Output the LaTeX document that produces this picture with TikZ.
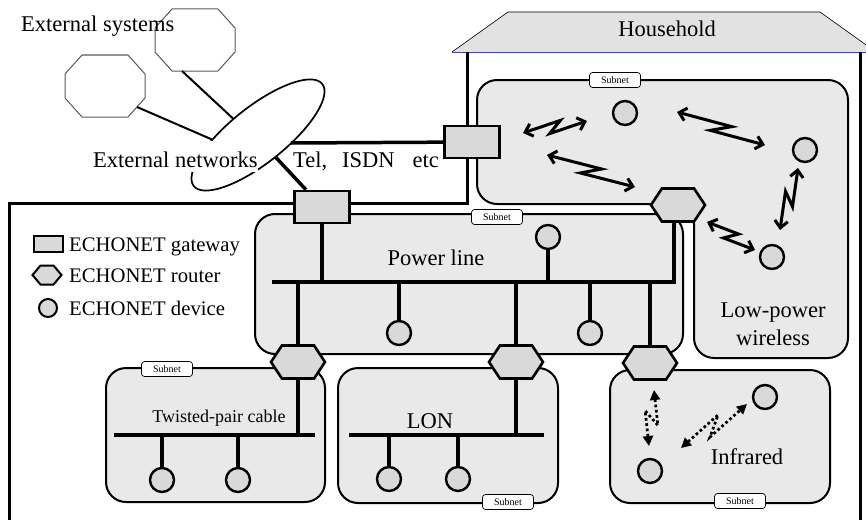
\documentclass[tikz,border=0pt]{standalone}
\usepackage{fontspec}
\setmainfont{Liberation Serif}
\usetikzlibrary{arrows.meta,shapes.geometric,shapes.symbols,calc}
\definecolor{subfill}{RGB}{233,233,233}
\definecolor{devfill}{RGB}{217,217,217}
\definecolor{rooffill}{RGB}{226,226,226}
\definecolor{roofline}{RGB}{70,70,170}
\newcommand\octoutline[1]{\draw[octline] ($(#1)+(-23,-31)$) -- ($(#1)+(23,-31)$) -- ($(#1)+(40,-12)$) -- ($(#1)+(40,12)$) -- ($(#1)+(23,31)$) -- ($(#1)+(-23,31)$) -- ($(#1)+(-40,12)$) -- ($(#1)+(-40,-12)$) -- cycle;}
\tikzset{
  big/.style={font=\fontsize{22.5}{26}\selectfont, inner sep=0pt},
  legtxt/.style={font=\fontsize{20.7}{24}\selectfont, inner sep=0pt, anchor=base west},
  subnetbox/.style={draw, fill=subfill, line width=2pt, rounded corners=20pt},
  tag/.style={draw, fill=white, rounded corners=3pt, line width=0.7pt, minimum width=51pt, minimum height=15pt, inner sep=0pt, font=\fontsize{10}{12}\selectfont},
  gw/.style={draw, fill=devfill, line width=2.6pt, minimum width=55pt, minimum height=32pt, inner sep=0pt},
  rt/.style={signal, signal to=east and west, signal pointer angle=113, draw, fill=devfill, line width=2.6pt, minimum width=54pt, minimum height=33pt, inner sep=0pt},
  dev/.style={circle, draw, fill=devfill, line width=2.4pt, minimum size=24pt, inner sep=0pt},
  octa/.style={rectangle, minimum width=80pt, minimum height=62pt, inner sep=0pt},
  octline/.style={draw=gray!70!black, fill=white, line width=1pt},
  bus/.style={line width=4pt},
  wire/.style={line width=3.5pt},
  zap/.style={line width=3pt, line join=miter, {Straight Barb[length=7pt,width=13pt]}-{Straight Barb[length=7pt,width=13pt]},
    to path={-- ($(\tikztostart)!0.6!(\tikztotarget)!5.5pt!90:(\tikztotarget)$) -- ($(\tikztostart)!0.4!(\tikztotarget)!5.5pt!-90:(\tikztotarget)$) -- (\tikztotarget)}},
  irzap/.style={line width=2.7pt, dash pattern=on 2.7pt off 2.6pt, {Triangle[length=10pt,width=10pt]}-{Triangle[length=10pt,width=10pt]},
    to path={-- ($(\tikztostart)!0.62!(\tikztotarget)!7pt!90:(\tikztotarget)$) -- ($(\tikztostart)!0.38!(\tikztotarget)!7pt!-90:(\tikztotarget)$) -- (\tikztotarget)}},
}
\begin{document}
\begin{tikzpicture}[x=1pt,y=-1pt]
\useasboundingbox (0,0) rectangle (866,519);
% roof
\fill[rooffill] (452,52) -- (508,12) -- (820,12) -- (876,52) -- cycle;
\draw[line width=0.6pt] (452,52) -- (508,12) -- (820,12) -- (876,52);
\draw[line width=0.9pt, roofline] (452,52) -- (876,52);
\node[big, anchor=base] (hh) at (667,37) {Household};
% house walls
\draw[line width=3pt] (467,52) -- (467,203) -- (9,203) -- (9,530);
\draw[line width=3pt] (860,52) -- (860,530);
% external systems and networks
\node[octa] (o1) at (195,40) {};
\node[octa] (o2) at (105,86) {};
\octoutline{o1}
\octoutline{o2}
\coordinate (net) at (258,135);
\draw[line width=1.7pt] plot[domain=0:360, samples=145, variable=\t]
  ({258 + 64.17*cos(\t) - 17.43*sin(\t)}, {135 - 51.05*cos(\t) - 21.91*sin(\t)}) -- cycle;
\coordinate (e0) at (212,139.5);
\coordinate (e1) at (233,118.5);
\coordinate (e2) at (291,143);
\coordinate (e3) at (275.5,157);
\draw[line width=2pt] ($(o1)+(-13,31)$) -- (e1);
\draw[line width=2pt] ($(o2)+(32,21)$) -- (e0);
\node[big, anchor=base west, fill=white, text height=26pt, text depth=5pt] (extnet) at (93,167) {External networks};
\node[big, anchor=base west] (extsys) at (21,32) {External systems};
\node[big, anchor=base west] (tel) at (293,167) {Tel,\hspace{15pt}ISDN\hspace{18pt}etc};
% subnet areas
\draw[subnetbox] (477,80) -- (848,80) -- (848,358) -- (694,358) -- (694,204) -- (477,204) -- cycle;
\draw[subnetbox] (255,214) rectangle (683,354);
\draw[subnetbox] (106,368) rectangle (325,502);
\draw[subnetbox] (338,368) rectangle (558,503);
\draw[subnetbox] (610,370) rectangle (830,503);
% buses
\coordinate (pbL) at (272,282); \coordinate (pbR) at (676,282);
\coordinate (tbL) at (114,435); \coordinate (tbR) at (315,435);
\coordinate (lbL) at (349,435); \coordinate (lbR) at (544,435);
\draw[bus] (pbL) -- (pbR);
\draw[bus] (tbL) -- (tbR);
\draw[bus] (lbL) -- (lbR);
% gateways and routers
\node[gw] (gw1) at (472,142) {};
\node[gw] (gw2) at (322,207) {};
\node[rt] (rtop) at (678,205) {};
\node[rt] (ra) at (298,362) {};
\node[rt] (rb) at (516,362) {};
\node[rt] (rc) at (650,363) {};
% devices
\node[dev] (pd1) at (548,237) {};
\node[dev] (pd2) at (399,333) {};
\node[dev] (pd3) at (590,333) {};
\node[dev] (td1) at (162,480) {};
\node[dev] (td2) at (238,480) {};
\node[dev] (ld1) at (389,479) {};
\node[dev] (ld2) at (458,479) {};
\node[dev] (id1) at (765,397) {};
\node[dev] (id2) at (650,471) {};
\node[dev] (wd1) at (625,113) {};
\node[dev] (wd2) at (805,150) {};
\node[dev] (wd3) at (772,257) {};
% wires
\draw[line width=3.5pt] (e2) -- (gw1);
\draw[line width=3.5pt] (e3) -- (gw2);
\draw[wire] (gw2) -- (gw2 |- pbL);
\draw[wire] ([xshift=-4pt]rtop.south) -- ([xshift=-4pt]rtop.south |- pbR);
\draw[wire] (pd1) -- (pd1 |- pbL);
\draw[wire] (pd2) -- (pd2 |- pbL);
\draw[wire] (pd3) -- (pd3 |- pbL);
\draw[wire] (ra) -- (ra |- pbL);
\draw[wire] (rb) -- (rb |- pbL);
\draw[wire] (rc) -- (rc |- pbL);
\draw[wire] (ra) -- (ra |- tbL);
\draw[wire] (td1) -- (td1 |- tbL);
\draw[wire] (td2) -- (td2 |- tbL);
\draw[wire] (rb) -- (rb |- lbL);
\draw[wire] (ld1) -- (ld1 |- lbL);
\draw[wire] (ld2) -- (ld2 |- lbL);
% wireless links
\coordinate (z1a) at (523,133); \coordinate (z1b) at (587,121);
\coordinate (z2a) at (547,155); \coordinate (z2b) at (635,187);
\coordinate (z3a) at (677,112); \coordinate (z3b) at (765,145);
\coordinate (z4a) at (798,168); \coordinate (z4b) at (780,230);
\coordinate (z5a) at (707,222); \coordinate (z5b) at (755,250);
\draw[zap] (z1a) to (z1b);
\draw[zap] (z2a) to (z2b);
\draw[zap] (z3a) to (z3b);
\draw[zap] (z4a) to (z4b);
\draw[zap] (z5a) to (z5b);
% infrared links
\coordinate (i1a) at (654,390); \coordinate (i1b) at (649,446);
\coordinate (i2a) at (681,448); \coordinate (i2b) at (747,404);
\draw[irzap] (i1a) to (i1b);
\draw[irzap] (i2a) to (i2b);
% subnet tags
\node[tag] (t1) at (615,80) {Subnet};
\node[tag] (t2) at (497,217) {Subnet};
\node[tag] (t3) at (167,369) {Subnet};
\node[tag] (t4) at (508,502) {Subnet};
\node[tag] (t5) at (740,501) {Subnet};
% subnet names
\node[big, anchor=base] (plt) at (436,265) {Power line};
\node[font=\fontsize{18}{21}\selectfont, inner sep=0pt, anchor=base] (tpt) at (219,422) {Twisted-pair cable};
\node[big, anchor=base] (lont) at (430,428) {LON};
\node[big, anchor=base] (irt) at (747,464) {Infrared};
\node[big, anchor=base] (lpt1) at (773,317) {Low-power};
\node[big, anchor=base] (lpt2) at (773,345) {wireless};
% legend
\node[gw, minimum width=29pt, minimum height=16pt, line width=2pt] (lg1) at (48,244) {};
\node[rt, minimum width=29pt, minimum height=19pt, line width=2pt, signal pointer angle=100] (lg2) at (47,275) {};
\node[dev, minimum size=18pt, line width=2pt] (lg3) at (48,308) {};
\node[legtxt] (lt1) at (69,251) {ECHONET gateway};
\node[legtxt] (lt2) at (69,282) {ECHONET router};
\node[legtxt] (lt3) at (69,315) {ECHONET device};
\end{tikzpicture}
\end{document}
